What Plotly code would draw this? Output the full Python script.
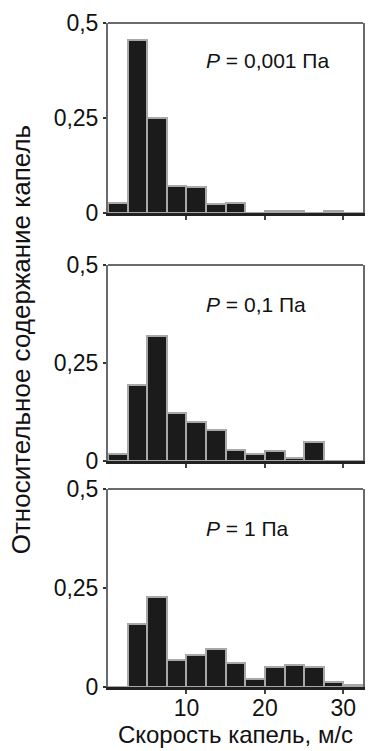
import plotly.graph_objects as go

# Droplet velocity bins (m/s), 2.5 m/s wide, given by their centres
bin_centers = [1.25, 3.75, 6.25, 8.75, 11.25, 13.75, 16.25, 18.75, 21.25, 23.75, 26.25, 28.75, 31.25]

# Relative droplet fraction in each velocity bin at three pressures
frac_p0001 = [0.025, 0.454, 0.250, 0.071, 0.069, 0.023, 0.026, 0.0, 0.005, 0.005, 0.0, 0.006, 0.0]
frac_p01 = [0.017, 0.194, 0.320, 0.123, 0.099, 0.080, 0.029, 0.017, 0.025, 0.008, 0.048, 0.0, 0.0]
frac_p1 = [0.0, 0.159, 0.228, 0.068, 0.082, 0.097, 0.061, 0.019, 0.051, 0.055, 0.051, 0.013, 0.005]

panel_labels = ["<i>P</i> = 0,001 Па", "<i>P</i> = 0,1 Па", "<i>P</i> = 1 Па"]
y_tickvals = [0, 0.25, 0.5]
y_ticktext = ["0", "0,25", "0,5"]
x_tickvals = [10, 20, 30]
x_ticktext = ["10", "20", "30"]

FONT = "Liberation Sans, Arial, sans-serif"
series = [frac_p0001, frac_p01, frac_p1]
domains = [(0.7139, 1.0), (0.3404, 0.6355), (0.0, 0.2982)]

fig = go.Figure()
for i, vals in enumerate(series):
    n = "" if i == 0 else str(i + 1)
    fig.add_trace(go.Bar(
        x=bin_centers, y=vals, width=2.5,
        marker=dict(color="#1b1b1b", line=dict(color="#a8a8a8", width=2)),
        xaxis="x" + n, yaxis="y" + n, showlegend=False,
    ))
    last = i == len(series) - 1
    fig.layout["xaxis" + n] = dict(
        domain=[0, 1], anchor="y" + n, range=[0, 32.5],
        showline=True, linecolor="#222", linewidth=3,
        ticks="outside", ticklen=4, tickwidth=1.5, tickcolor="#444",
        tickvals=x_tickvals, ticktext=x_ticktext,
        showticklabels=last, showgrid=False, zeroline=False,
        ticklabelstandoff=-6,
        tickfont=dict(family=FONT, size=23, color="#111"),
        title=dict(text="Скорость капель, м/с", standoff=4,
                   font=dict(family=FONT, size=24, color="#111")) if last else None,
    )
    fig.layout["yaxis" + n] = dict(
        domain=list(domains[i]), anchor="x" + n, range=[0, 0.5],
        showline=True, linecolor="#6a6a6a", linewidth=2, mirror=True,
        ticks="outside", ticklen=3, tickwidth=2, tickcolor="#333",
        tickvals=y_tickvals, ticktext=y_ticktext,
        showgrid=False, zeroline=False,
        tickfont=dict(family=FONT, size=23, color="#111"),
    )
    # top edge of the panel frame
    fig.add_shape(type="line", xref="x" + n + " domain", yref="y" + n + " domain",
                  x0=0, x1=1, y0=1, y1=1, line=dict(color="#6a6a6a", width=2))
    fig.add_annotation(
        x=12.2, y=0.40, xref="x" + n, yref="y" + n, text=panel_labels[i],
        showarrow=False, xanchor="left", yanchor="middle",
        font=dict(family=FONT, size=21, color="#111"),
    )

fig.add_annotation(
    x=-0.34, y=0.5226, xref="paper", yref="paper",
    text="Относительное содержание капель", textangle=-90,
    showarrow=False, xanchor="center", yanchor="middle",
    font=dict(family=FONT, size=26, color="#111"),
)

fig.update_layout(
    width=373, height=751,
    margin=dict(l=108, r=8, t=23, b=64),
    paper_bgcolor="white", plot_bgcolor="white",
    bargap=0,
)

fig.write_html("out.html")
